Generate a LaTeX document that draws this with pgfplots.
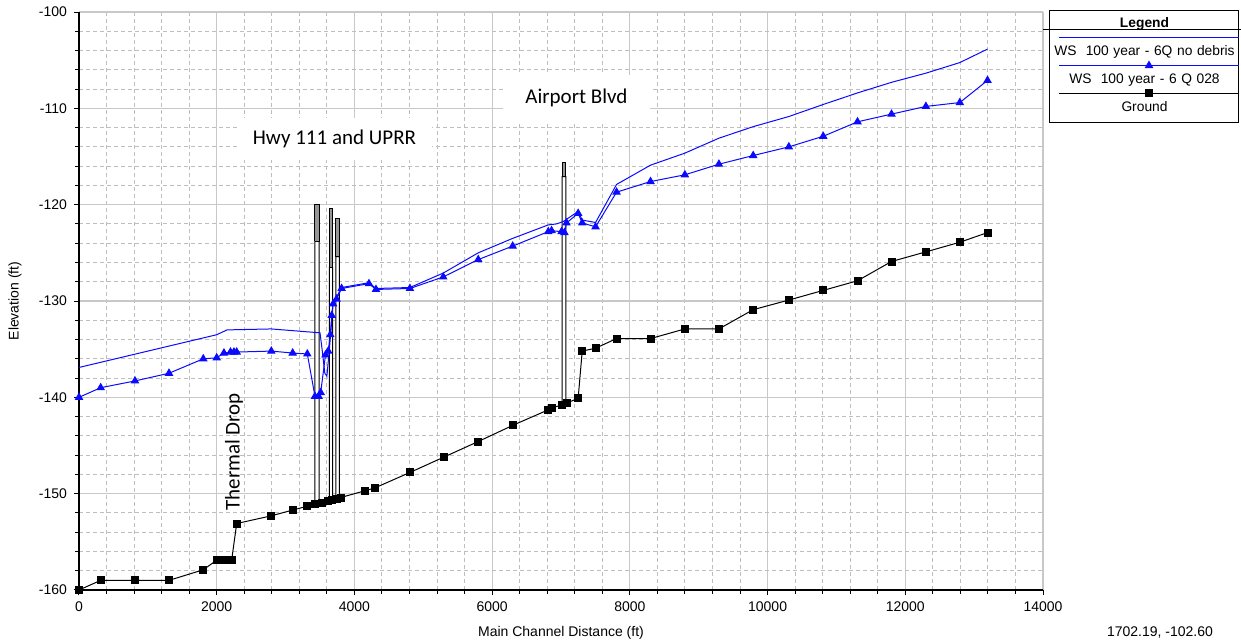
\documentclass[border=0pt]{standalone}
\usepackage{fontspec}
\setmainfont{Liberation Sans}
\newfontfamily\calibri{Carlito}
\usepackage{pgfplots}
\pgfplotsset{compat=1.18}
\definecolor{majgrid}{RGB}{200,200,200}
\definecolor{mingrid}{RGB}{190,190,190}
\definecolor{wsblue}{RGB}{10,10,255}
\definecolor{deck}{RGB}{150,150,150}
\pgfplotsset{myleg/.style={legend image code/.code={
   \path (0pt,0pt);
   \draw[mark repeat=3, mark phase=2, ##1, overlay] plot coordinates {(4pt,7.5pt) (49pt,7.5pt) (94pt,7.5pt)};
}}}
\begin{document}
\begin{tikzpicture}
\path[use as bounding box] (0,0) rectangle (620.5pt,321pt);
\begin{axis}[
  at={(39.5pt,26pt)}, anchor=south west,
  scale only axis, width=482pt, height=289pt,
  xmin=0, xmax=14000, ymin=-160, ymax=-100,
  xtick distance=2000, ytick distance=10,
  minor x tick num=4, minor y tick num=4,
  scaled x ticks=false,
  grid=both,
  major grid style={draw=majgrid, line width=0.6pt},
  minor grid style={draw=mingrid, line width=0.5pt, dash pattern=on 2pt off 1.5pt},
  axis x line*=bottom, axis y line*=left,
  axis line style={black, line width=0.6pt, -},
  tick align=outside, major tick length=2.5pt, minor tick length=2pt,
  tick style={black, line width=0.5pt},
  ticklabel style={font=\fontsize{7}{8}\selectfont},
  /pgf/number format/assume math mode=true,
  /pgf/number format/1000 sep={},
  xlabel={Main Channel Distance (ft)}, ylabel={Elevation (ft)},
  label style={font=\fontsize{7}{8}\selectfont},
  xlabel style={at={(axis description cs:0.5,-0.0744)}, anchor=center},
  ylabel style={at={(axis description cs:-0.0664,0.5)}, anchor=center},
  clip=false,
  legend cell align=center,
  legend style={at={(axis description cs:1.00622,1.00346)}, anchor=north west,
    draw=black, line width=0.5pt, inner xsep=0.5pt, inner ysep=0pt,
    font=\fontsize{6.9}{8.3}\selectfont,
    nodes={text width=93pt, align=center, inner xsep=0pt, inner ysep=0pt, minimum height=14pt},
    row sep=0pt, column sep=0pt},
]
\addlegendimage{legend image code/.code={\draw[overlay, black, line width=0.5pt] (-4pt,-2.5pt) -- (100pt,-2.5pt);}}
\addlegendentry{\textbf{Legend}}

% bridges
\addplot[forget plot, draw=black, fill=white, line width=0.5pt] coordinates {(3427,-151.1) (3489,-151.0) (3489,-123.8) (3427,-123.8) (3427,-151.1)};
\addplot[forget plot, draw=black, fill=deck, line width=0.5pt] coordinates {(3427,-123.8) (3489,-123.8) (3489,-120.0) (3427,-120.0) (3427,-123.8)};
\addplot[forget plot, draw=black, fill=white, line width=0.5pt] coordinates {(3635,-150.8) (3683,-150.7) (3683,-126.5) (3635,-126.5) (3635,-150.8)};
\addplot[forget plot, draw=black, fill=deck, line width=0.5pt] coordinates {(3635,-126.5) (3683,-126.5) (3683,-120.4) (3635,-120.4) (3635,-126.5)};
\addplot[forget plot, draw=black, fill=white, line width=0.5pt] coordinates {(3732,-150.6) (3780,-150.5) (3780,-125.4) (3732,-125.4) (3732,-150.6)};
\addplot[forget plot, draw=black, fill=deck, line width=0.5pt] coordinates {(3732,-125.4) (3780,-125.4) (3780,-121.4) (3732,-121.4) (3732,-125.4)};
\addplot[forget plot, draw=black, fill=white, line width=0.5pt] coordinates {(7018,-140.8) (7072,-140.6) (7072,-117.1) (7018,-117.1) (7018,-140.8)};
\addplot[forget plot, draw=black, fill=deck, line width=0.5pt] coordinates {(7018,-117.1) (7072,-117.1) (7072,-115.6) (7018,-115.6) (7018,-117.1)};

% WS no debris
\addplot[wsblue, line width=0.5pt, mark=none, myleg] coordinates {
(0,-136.9) (2000,-133.5) (2150,-133.0) (2793,-132.9) (3316,-133.2) (3500,-133.3) (3530,-135.0) (3570,-137.5) (3600,-137.8) (3630,-135.5) (3660,-133.0) (3690,-130.0) (3740,-129.6) (3814,-128.6) (4211,-128.1) (4313,-128.7) (4806,-128.6) (5290,-127.1) (5798,-125.0) (6298,-123.5) (6815,-122.1) (6935,-122.0) (7033,-121.75) (7249,-120.7) (7308,-121.6) (7502,-121.85) (7807,-117.9) (8300,-115.9) (8799,-114.65) (9293,-113.1) (9791,-111.9) (10309,-110.85) (10808,-109.6) (11306,-108.4) (11800,-107.3) (12299,-106.35) (12792,-105.25) (13194,-103.85)};
\addlegendentry{WS\ \ 100 year - 6Q no debris}

% WS 6 Q 028
\addplot[wsblue, line width=0.5pt, mark=triangle*, mark size=2pt, mark options={solid}, myleg] coordinates {
(0,-140) (315,-139) (813,-138.3) (1307,-137.5) (1805,-136.0) (2000,-135.9) (2105,-135.4) (2200,-135.3) (2250,-135.3) (2290,-135.3) (2793,-135.2) (3103,-135.4) (3316,-135.5) (3427,-139.9) (3480,-139.9) (3510,-139.5) (3580,-135.6) (3620,-135.2) (3650,-133.5) (3670,-131.5) (3690,-130.3) (3740,-129.8) (3814,-128.7) (4211,-128.2) (4313,-128.8) (4806,-128.7) (5290,-127.5) (5798,-125.7) (6298,-124.3) (6815,-122.8) (6863,-122.7) (7008,-122.8) (7050,-122.9) (7080,-121.9) (7249,-120.9) (7308,-121.9) (7502,-122.3) (7807,-118.7) (8300,-117.6) (8799,-116.9) (9293,-115.8) (9791,-114.9) (10309,-114.0) (10808,-112.9) (11306,-111.4) (11800,-110.6) (12299,-109.8) (12792,-109.4) (13194,-107.1)};
\addlegendentry{WS\ \ 100 year - 6 Q 028}

% Ground
\addplot[black, line width=0.5pt, mark=square*, mark size=1.75pt, myleg] coordinates {
(0,-160) (315,-159) (813,-159) (1307,-159) (1805,-157.9) (2000,-156.9) (2050,-156.9) (2100,-156.9) (2150,-156.9) (2217,-156.9) (2290,-153.1) (2793,-152.3) (3103,-151.7) (3316,-151.3) (3432,-151.1) (3530,-151.0) (3620,-150.8) (3680,-150.7) (3740,-150.6) (3800,-150.4) (4153,-149.7) (4298,-149.4) (4806,-147.8) (5300,-146.2) (5794,-144.6) (6302,-142.9) (6814,-141.3) (6863,-141.1) (7008,-140.8) (7080,-140.6) (7249,-140.1) (7308,-135.2) (7502,-134.9) (7807,-133.9) (8300,-133.9) (8799,-132.9) (9293,-132.9) (9791,-130.9) (10309,-129.9) (10808,-128.9) (11306,-127.9) (11800,-125.9) (12299,-124.9) (12792,-123.9) (13194,-122.9)};
\addlegendentry{Ground}

\node[fill=white, minimum width=97.5pt, minimum height=21pt, font=\calibri\fontsize{10.5}{12}\selectfont] at (axis cs:3710,-113.2) {Hwy 111 and UPRR};
\node[fill=white, minimum width=73.5pt, minimum height=23pt, font=\calibri\fontsize{10.5}{12}\selectfont] at (axis cs:7224,-108.93) {Airport Blvd};
\node[rotate=90, font=\calibri\fontsize{10.5}{12}\selectfont] at (axis cs:2251,-145.67) {Thermal Drop};
\node[font=\fontsize{7}{8}\selectfont] at (axis description cs:1.1214,-0.0744) {1702.19, -102.60};
\end{axis}
\end{tikzpicture}
\end{document}
